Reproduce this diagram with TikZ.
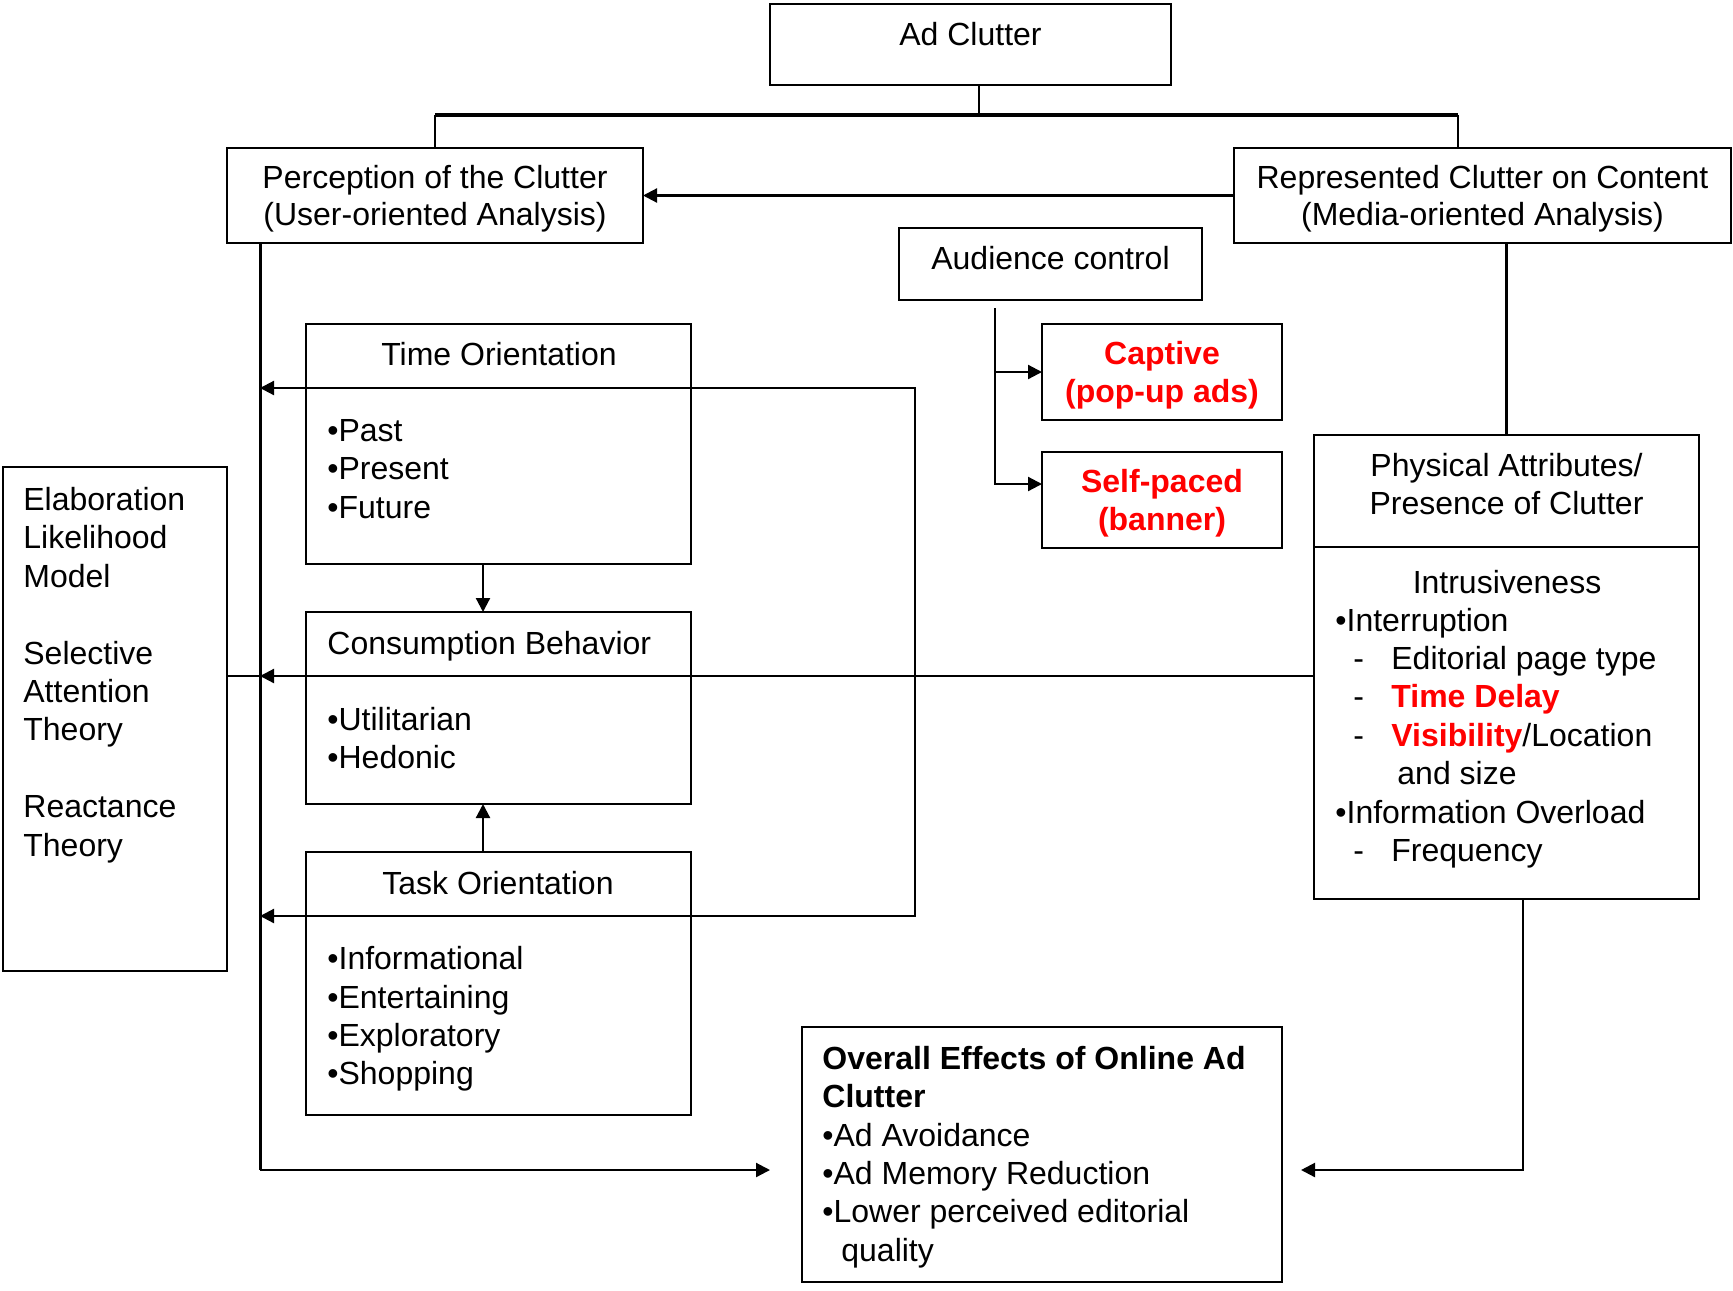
\documentclass[tikz,border=0pt]{standalone}
\usepackage{fontspec}
\setmainfont{Liberation Sans}
\usetikzlibrary{positioning, arrows.meta}
\definecolor{adred}{RGB}{255,0,0}

\begin{document}
\begin{tikzpicture}[x=0.5pt, y=-0.5pt, >={Triangle[length=7pt, width=7pt]},
    font=\fontsize{16pt}{19.2pt}\selectfont,
    box/.style={draw, line width=1.3pt, inner sep=0pt, outer sep=0pt},
    head/.style={align=center, font=\fontsize{16pt}{18.4pt}\selectfont},
    txt/.style={inner sep=0pt, align=left},
    hot/.style={text=adred, font=\fontsize{16pt}{19.2pt}\selectfont\bfseries},
    link/.style={line width=1.1pt},
    bar/.style={line width=2pt},
    spine/.style={line width=1.5pt}]
  \useasboundingbox (0,0) rectangle (1733,1290);

  \node[box, minimum width=200.5pt, minimum height=40.5pt, text height=20.75pt, text depth=19.75pt] (adclutter) at (970.5,44.5) {Ad Clutter};
  \node[box, head, minimum width=208pt, minimum height=47.5pt] (percep) at (435,195.5) {\rule{0pt}{14.7pt}Perception of the Clutter\\(User-oriented Analysis)};
  \node[box, head, minimum width=248.5pt, minimum height=47.5pt] (repres) at (1482.5,195.5) {\rule{0pt}{14.7pt}Represented Clutter on Content\\(Media-oriented Analysis)};
  \node[box, minimum width=151.5pt, minimum height=36pt, text height=20.5pt, text depth=15.5pt] (audience) at (1050.5,264) {Audience control};
  \node[box, hot, minimum width=120pt, minimum height=48pt, align=center] (captive) at (1162,372) {\rule{0pt}{14.7pt}Captive\\(pop-up ads)};
  \node[box, hot, minimum width=120pt, minimum height=48pt, align=center, below=16pt of captive] (selfpaced) {\rule{0pt}{14.7pt}Self-paced\\(banner)};

  \node[box, minimum width=192.5pt, minimum height=120pt] (timeor) at (498.5,444) {};
  \node[box, minimum width=192.5pt, minimum height=96pt, below=24pt of timeor] (consum) {};
  \node[box, minimum width=192.5pt, minimum height=131.5pt, below=24pt of consum] (taskor) {};
  \node[box, minimum width=112pt, minimum height=252pt] (elm) at (115,719) {};
  \node[box, minimum width=192.5pt, minimum height=56pt, align=center] (physattr) at (1506.5,491) {Physical Attributes/\\Presence of Clutter\rule[-7pt]{0pt}{7pt}};
  \node[box, minimum width=192.5pt, minimum height=176pt, below=0pt of physattr] (intrus) {};
  \node[box, minimum width=240pt, minimum height=127.5pt] (overall) at (1042,1154.5) {};

  \node[txt] (timehd) at (499,354) {Time Orientation};
  \node[txt, anchor=west] (timelist) at (327,469) {•Past\\•Present\\•Future};
  \node[txt, anchor=west] (conshd) at (327,646) {Consumption Behavior};
  \node[txt, anchor=west] (conslist) at (327,738) {•Utilitarian\\•Hedonic};
  \node[txt] (taskhd) at (498,883) {Task Orientation};
  \node[txt, anchor=west] (tasklist) at (327,1019) {•Informational\\•Entertaining\\•Exploratory\\•Shopping};
  \node[txt, anchor=west] (elmtxt) at (23,675) {Elaboration\\Likelihood\\Model\\[19.2pt]Selective\\Attention\\Theory\\[19.2pt]Reactance\\Theory};
  \node[txt] (intrushd) at (1507,582) {Intrusiveness};
  \node[txt, anchor=west] (intruslist) at (1335,738) {•Interruption\\
    \hspace*{9pt}\makebox[19pt][l]{-}Editorial page type\\
    \hspace*{9pt}\makebox[19pt][l]{-}\textcolor{adred}{\bfseries Time Delay}\\
    \hspace*{9pt}\makebox[19pt][l]{-}\textcolor{adred}{\bfseries Visibility}/Location\\
    \hspace*{31pt}and size\\
    •Information Overload\\
    \hspace*{9pt}\makebox[19pt][l]{-}Frequency};
  \node[txt, anchor=west] (overalltxt) at (822,1157) {\textbf{Overall Effects of Online Ad}\\\textbf{Clutter}\\•Ad Avoidance\\•Ad Memory Reduction\\•Lower perceived editorial\\\hspace*{9.5pt}quality};

  \coordinate (adstem) at (979,85);
  \coordinate (barL) at (435,115);
  \coordinate (barR) at (1458,115);
  \coordinate (acstem) at (995,308);
  \coordinate (spine) at (260,243);
  \coordinate (lowL) at (770,1170);
  \coordinate (lowR) at (1301,1170);
  \coordinate (tline) at (915,388);
  \coordinate (kline) at (915,916);
  \coordinate (cline) at (1314,676);

  \draw[link] (adstem) -- (adstem |- barL);
  \draw[link] (percep.north) -- (barL);
  \draw[bar] (barL) -- (barR);
  \draw[link] (barR) -- (barR |- repres.north);
  \draw[link, ->] (repres) -- (percep);
  \draw[link, ->] (acstem) |- (captive);
  \draw[link, ->] (acstem) |- ([yshift=8pt]selfpaced.west);
  \draw[spine] (spine) -- (spine |- lowL);
  \draw[link, ->] (spine |- lowL) -- (lowL);
  \draw[link, <->] (spine |- tline) -- (tline) -- (kline) -- (spine |- kline);
  \draw[link, ->] (cline) -- (spine |- cline);
  \draw[link] (elm.east |- cline) -- (spine |- cline);
  \draw[link, ->] ([xshift=-7.75pt]timeor.south) -- ([xshift=-7.75pt]consum.north);
  \draw[link, ->] ([xshift=-7.75pt]taskor.north) -- ([xshift=-7.75pt]consum.south);
  \draw[link] (physattr.north |- repres.south) -- (physattr.north);
  \draw[link, ->] ([xshift=8.25pt]intrus.south) |- (lowR);
\end{tikzpicture}
\end{document}
